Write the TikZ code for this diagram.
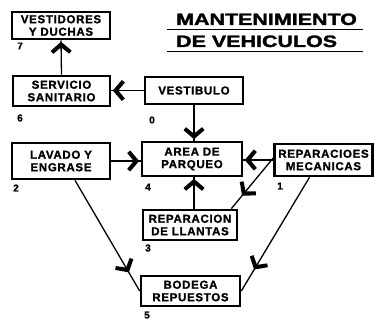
\documentclass[tikz,border=0pt]{standalone}
\usepackage{fontspec}
\usepackage{graphicx}
\setmainfont{Liberation Sans}
\newfontfamily\boxfont[LetterSpace=6,FakeBold=1.2]{Liberation Sans Bold}
\newfontfamily\ttlfont[FakeBold=1.5]{Liberation Sans Bold}
\usetikzlibrary{decorations.markings}
\newcommand\barbheadat[1]{\fill[black,xshift=#1pt]
  (1.5,0) -- (-7.5,-10.5) -- (-10.5,-8) -- (-4,0) -- (-10.5,8) -- (-7.5,10.5) -- cycle;}
\begin{document}
\begin{tikzpicture}[x=1pt,y=-1pt,
  box/.style={draw,line width=2.6pt,inner sep=0pt,align=center,
    font=\boxfont\fontsize{11.5}{12.5}\selectfont},
  num/.style={inner sep=0pt,font=\boxfont\fontsize{10}{10}\selectfont},
  conn/.style={line width=1.3pt,postaction={decorate},
    decoration={markings,mark=at position 1 with {\barbheadat{-3}}}},
  midarrow/.style={line width=1.3pt,postaction={decorate},
    decoration={markings,mark=at position #1 with {\barbheadat{0}}}},
  ttl/.style={anchor=base west,inner sep=0pt,font=\ttlfont\fontsize{16.5}{16.5}\selectfont}
]
\useasboundingbox (0,0) rectangle (374,320);
\fill[white] (0,0) rectangle (374,320);

% title
\node[ttl] (t1) at (176,25) {\scalebox{1.3}[1]{MANTENIMIENTO}};
\node[ttl] (t2) at (176,47) {\scalebox{1.3}[1]{DE VEHICULOS}};
\draw[line width=1.8pt] (167,29.5) -- (363,29.5);
\draw[line width=1.8pt] (167,51.5) -- (363,51.5);

% boxes
\node[box,minimum width=98pt,minimum height=27pt] (ves) at (61,25.5) {VESTIDORES\\Y DUCHAS};
\node[box,minimum width=97pt,minimum height=30pt] (ser) at (61.5,91) {SERVICIO\\SANITARIO};
\node[box,minimum width=98pt,minimum height=27pt] (vtb) at (194,90.5) {VESTIBULO};
\node[box,minimum width=98pt,minimum height=36pt] (lav) at (61,161) {LAVADO Y\\ENGRASE};
\node[box,minimum width=100pt,minimum height=34pt] (are) at (192,159) {AREA DE\\PARQUEO};
\node[box,minimum width=98pt,minimum height=32pt] (rep) at (323.5,160) {REPARACIOES\\MECANICAS};
\node[box,minimum width=94pt,minimum height=30pt] (lla) at (190,225) {REPARACION\\DE LLANTAS};
\node[box,minimum width=99pt,minimum height=30pt] (bod) at (190.5,291) {BODEGA\\REPUESTOS};

% numbers
\node[num] (n7) at (20,46) {7};
\node[num] (n6) at (20,118) {6};
\node[num] (n0) at (152,120) {0};
\node[num] (n2) at (16,188) {2};
\node[num] (n4) at (148,187) {4};
\node[num] (n1) at (280,186) {1};
\node[num] (n3) at (148,248) {3};
\node[num] (n5) at (147,315) {5};

% connectors
\draw[conn] (ser.north) -- (ves.south);
\draw[conn] (vtb.west) -- (vtb.west -| ser.east);
\draw[conn] (vtb.south) -- (vtb.south |- are.north);
\draw[conn] (lav.east) -- (lav.east -| are.west);
\draw[conn] (rep.west) -- (rep.west -| are.east);
\draw[conn] (lla.north -| vtb.south) -- (are.south -| vtb.south);
\draw[midarrow=0.72] ([yshift=2pt]rep.west) -- ([xshift=-7pt]lla.north east);
\draw[midarrow=0.82] ([xshift=14pt]lav.south) -- (bod.west);
\draw[midarrow=0.8] ([xshift=-14pt]rep.south) -- (bod.east);
\end{tikzpicture}
\end{document}
